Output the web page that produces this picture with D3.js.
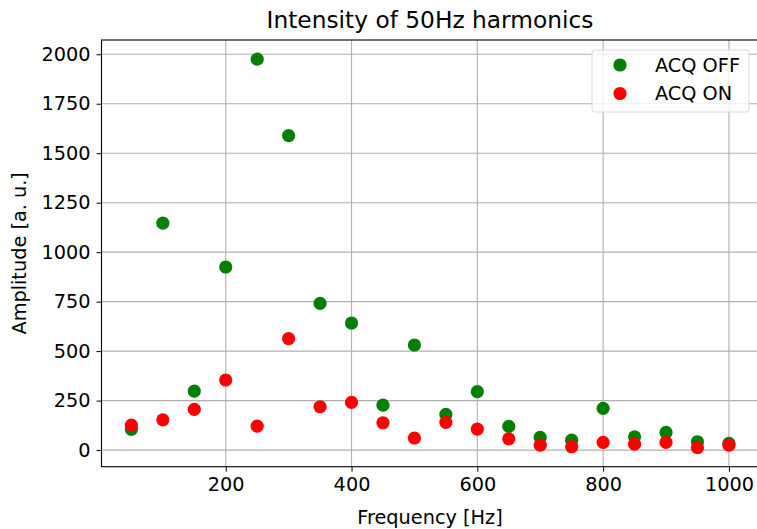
<!DOCTYPE html>
<html><head><meta charset="utf-8">
<script src="https://cdn.jsdelivr.net/npm/d3@7"></script>
<style>body{margin:0;background:#fff;} svg{display:block;font-family:"DejaVu Sans",sans-serif;}</style>
</head><body>
<svg id="c" width="757" height="529"></svg>
<script>
const freqs = [50,100,150,200,250,300,350,400,450,500,550,600,650,700,750,800,850,900,950,1000];
const acqOff = [105,1147,298,925,1975,1589,741,642,227,531,180,295,120,64,50,211,67,89,42,34];
const acqOn = [126,153,206,354,121,563,219,241,138,61,140,106,57,25,17,39,30,39,12,25];
const xTicks = [200,400,600,800,1000];
const yTicks = [0,250,500,750,1000,1250,1500,1750,2000];
const seriesNames = ["ACQ OFF","ACQ ON"];
const seriesColors = ["green","red"];

const svg = d3.select("#c");
const L = 101.5, R = 758.8, T = 40, B = 466.7;
const x = d3.scaleLinear().domain([2.5,1047.5]).range([L,R]);
const y = d3.scaleLinear().domain([-84,2072]).range([B,T]);

const g = svg.append("g");
g.selectAll(".gx").data(xTicks).enter().append("line")
  .attr("x1",d=>x(d)).attr("x2",d=>x(d)).attr("y1",T).attr("y2",B)
  .attr("stroke","#b0b0b0").attr("stroke-width",1.1);
g.selectAll(".gy").data(yTicks).enter().append("line")
  .attr("y1",d=>y(d)).attr("y2",d=>y(d)).attr("x1",L).attr("x2",R)
  .attr("stroke","#b0b0b0").attr("stroke-width",1.1);

const fs = 19.3;
const fmt = d3.format("d");
const xAxis = svg.append("g").attr("transform",`translate(0,${B})`)
  .call(d3.axisBottom(x).tickValues(xTicks).tickFormat(fmt).tickSize(5).tickPadding(6).tickSizeOuter(0));
const yAxis = svg.append("g").attr("transform",`translate(${L},0)`)
  .call(d3.axisLeft(y).tickValues(yTicks).tickFormat(fmt).tickSize(5).tickPadding(6).tickSizeOuter(0));
[xAxis,yAxis].forEach(a=>{
  a.select(".domain").remove();
  a.selectAll("text").attr("font-size",fs).attr("font-family","DejaVu Sans").attr("fill","#000");
  a.selectAll("line").attr("stroke","#000").attr("stroke-width",1);
});
svg.append("rect").attr("x",L).attr("y",T).attr("width",R-L).attr("height",B-T)
  .attr("fill","none").attr("stroke","#000").attr("stroke-width",1.1);

const series = [acqOff, acqOn];
series.forEach((vals,i)=>{
  svg.append("g").selectAll("circle").data(vals).enter().append("circle")
    .attr("cx",(d,j)=>x(freqs[j])).attr("cy",d=>y(d)).attr("r",6.6)
    .attr("fill",seriesColors[i]);
});

const lg = svg.append("g");
lg.append("rect").attr("x",592).attr("y",50).attr("width",157).attr("height",62).attr("rx",3)
  .attr("fill","#fff").attr("fill-opacity",0.8).attr("stroke","#d9d9d9").attr("stroke-width",1);
seriesNames.forEach((n,i)=>{
  lg.append("circle").attr("cx",620).attr("cy",65+i*28.5).attr("r",6.6).attr("fill",seriesColors[i]);
  lg.append("text").attr("x",655).attr("y",65+i*28.5).attr("dy","0.36em")
    .attr("font-size",fs).text(n);
});

svg.append("text").attr("x",430).attr("y",28).attr("text-anchor","middle").attr("font-size",23.3).text("Intensity of 50Hz harmonics");
svg.append("text").attr("x",430).attr("y",524).attr("text-anchor","middle").attr("font-size",fs).text("Frequency [Hz]");
svg.append("text").attr("transform",`translate(26,${(T+B)/2}) rotate(-90)`).attr("text-anchor","middle").attr("font-size",fs).text("Amplitude [a. u.]");
</script>
</body></html>
